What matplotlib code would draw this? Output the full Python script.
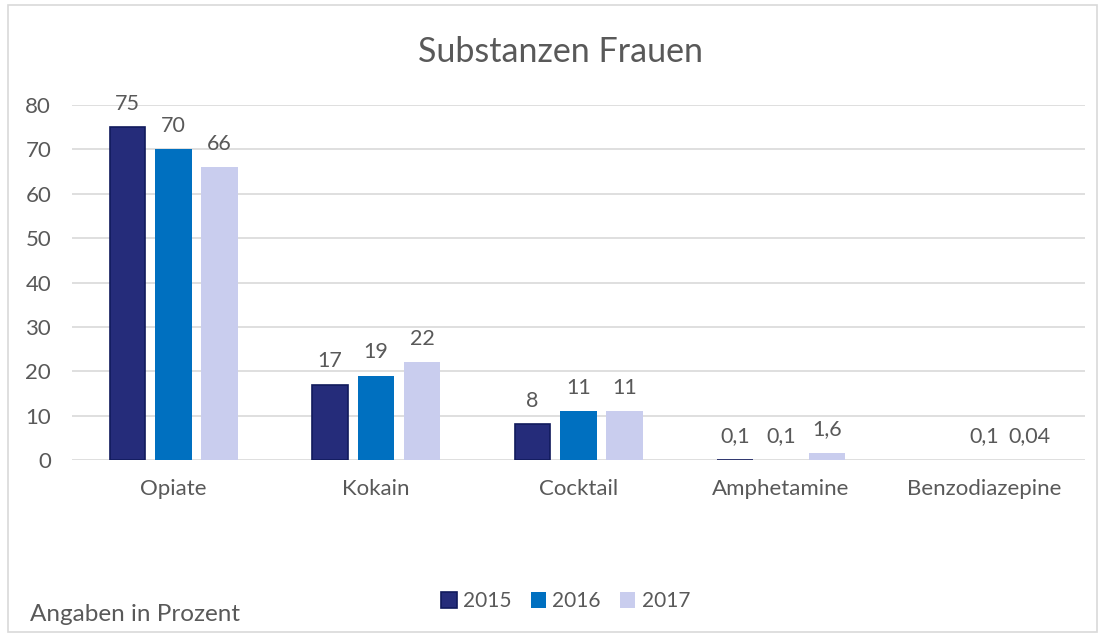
import numpy as np
import matplotlib.pyplot as plt
from matplotlib.patches import Rectangle

plt.rcParams['font.family'] = ['Lato', 'DejaVu Sans']

categories = ["Opiate", "Kokain", "Cocktail", "Amphetamine", "Benzodiazepine"]
years = ["2015", "2016", "2017"]
v2015 = [75, 17, 8, 0.1, np.nan]
v2016 = [70, 19, 11, 0.1, 0.1]
v2017 = [66, 22, 11, 1.6, 0.04]
colors = ["#252C7A", "#0070C0", "#C9CDEE"]
edges = ["#111A5C", "none", "none"]
lws = [1.2, 0, 0]

fig = plt.figure(figsize=(11.05, 6.35), dpi=100)
ax = fig.add_axes([0.0652, 0.2756, 0.9167, 0.559])
fig.patches.append(Rectangle((0.007, 0.004), 0.986, 0.988, transform=fig.transFigure,
                             fill=False, edgecolor="#D9D9D9", linewidth=1.2))

x = np.arange(len(categories))
w = 0.18
off = 0.227
gray = "#595959"

def fmt(v):
    if v == int(v):
        return str(int(v))
    return ("%g" % v).replace(".", ",")

for i, vals in enumerate([v2015, v2016, v2017]):
    xs = x + (i - 1) * off
    ax.bar(xs, vals, w - lws[i] * 0.005, color=colors[i], edgecolor=edges[i],
           linewidth=lws[i], label=years[i], zorder=3)
    for xi, v in zip(xs, vals):
        if np.isnan(v):
            continue
        ax.annotate(fmt(v), (xi, v), xytext=(0, 17), textcoords="offset points",
                    ha="center", va="center", fontsize=15.5, color=gray)

ax.set_xlim(-0.5, 4.5)
ax.set_ylim(0, 80)
ax.set_yticks(range(0, 81, 10))
ax.set_xticks(x)
ax.set_xticklabels(categories)
ax.yaxis.grid(True, color="#D9D9D9", linewidth=1.2, zorder=0)
for s in ax.spines.values():
    s.set_visible(False)
ax.tick_params(axis="both", length=0, labelsize=16, colors=gray)
ax.tick_params(axis="y", pad=15)
ax.tick_params(axis="x", pad=14)

fig.text(0.507, 0.918, "Substanzen Frauen", ha="center", va="center", fontsize=24.5, color=gray)
fig.legend(loc="center", bbox_to_anchor=(0.512, 0.053), ncol=3, frameon=False,
           fontsize=15, handlelength=0.75, handleheight=0.75, handletextpad=0.3,
           columnspacing=0.9, labelcolor=gray)
fig.text(0.027, 0.033, "Angaben in Prozent", ha="left", va="center", fontsize=17.5, color=gray)

fig.savefig("out.png", dpi=100)
